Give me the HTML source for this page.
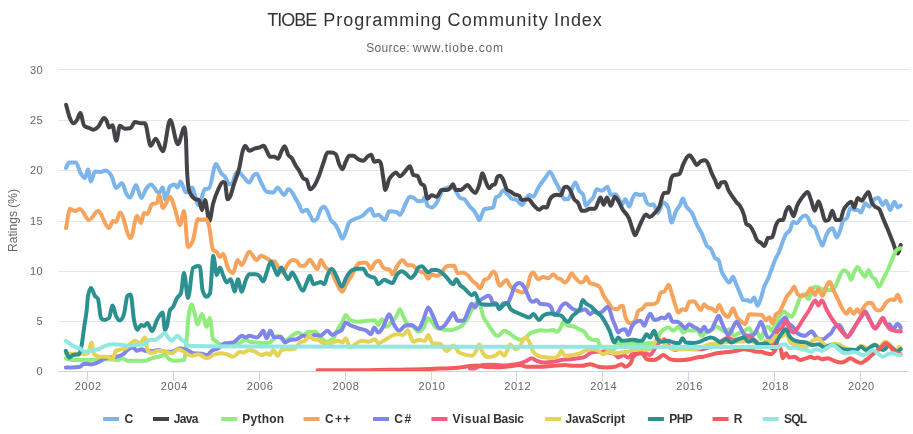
<!DOCTYPE html>
<html lang="en"><head><meta charset="utf-8"><title>TIOBE Programming Community Index</title>
<style>html,body{margin:0;padding:0;background:#fff}body{width:913px;height:434px;overflow:hidden}</style></head>
<body>
<svg width="913" height="434" viewBox="0 0 913 434" style="display:block;font-family:'Liberation Sans', sans-serif">
<rect x="0" y="0" width="913" height="434" fill="#ffffff"/>
<g stroke="#e6e6e6" stroke-width="1" fill="none"><path d="M58 69.5L909 69.5"/><path d="M58 120.5L909 120.5"/><path d="M58 170.5L909 170.5"/><path d="M58 221.5L909 221.5"/><path d="M58 271.5L909 271.5"/><path d="M58 321.5L909 321.5"/></g>
<path d="M58 371.5L909 371.5" stroke="#ccd6eb" stroke-width="1" fill="none"/>
<g stroke="#ccd6eb" stroke-width="1" fill="none"><path d="M87.5 371.5L87.5 381"/><path d="M173.5 371.5L173.5 381"/><path d="M259.5 371.5L259.5 381"/><path d="M345.5 371.5L345.5 381"/><path d="M431.5 371.5L431.5 381"/><path d="M516.5 371.5L516.5 381"/><path d="M602.5 371.5L602.5 381"/><path d="M688.5 371.5L688.5 381"/><path d="M774.5 371.5L774.5 381"/><path d="M860.5 371.5L860.5 381"/></g>
<defs><clipPath id="plotclip"><rect x="58" y="69" width="851" height="302"/></clipPath></defs>
<g clip-path="url(#plotclip)" fill="none" stroke-width="4" stroke-linejoin="round" stroke-linecap="round">
<path stroke="#7cb5ec" d="M66.0 168.0C67.0 166.1 68.0 162.4 69.0 162.4C71.3 162.4 73.7 162.4 76.0 162.4C77.3 162.4 78.7 169.5 80.0 172.0C81.7 175.1 83.3 178.0 85.0 178.0C86.0 178.0 87.0 169.6 88.0 169.6C89.0 169.6 90.0 181.6 91.0 181.6C92.3 181.6 93.7 171.6 95.0 171.6C97.0 171.6 99.0 172.0 101.0 172.0C102.5 172.0 103.9 170.4 105.4 170.4C107.6 170.4 109.8 172.6 112.0 177.0C113.3 179.7 114.7 188.0 116.0 188.0C118.0 188.0 120.0 183.0 122.0 183.0C123.3 183.0 124.7 190.6 126.0 193.0C127.3 195.4 128.7 197.6 130.0 197.6C132.0 197.6 134.0 185.0 136.0 185.0C137.8 185.0 139.6 198.0 141.4 198.0C142.9 198.0 144.5 191.2 146.0 189.0C147.7 186.6 149.3 184.4 151.0 184.4C153.7 184.4 156.3 193.0 159.0 193.0C160.2 193.0 161.4 187.6 162.6 187.6C163.5 187.6 164.5 199.6 165.4 199.6C166.9 199.6 168.5 187.6 170.0 186.4C171.7 185.1 173.3 184.4 175.0 184.4C175.8 184.4 176.6 187.6 177.4 187.6C178.5 187.6 179.5 181.6 180.6 181.6C182.4 181.6 184.2 192.4 186.0 192.4C188.0 192.4 190.0 187.6 192.0 187.6C194.2 187.6 196.4 205.0 198.6 205.0C200.7 205.0 202.9 189.6 205.0 189.0C206.3 188.6 207.7 188.8 209.0 188.4C211.3 187.7 213.7 164.0 216.0 164.0C217.7 164.0 219.3 170.8 221.0 173.0C222.3 174.8 223.7 174.9 225.0 176.7C226.4 178.6 227.8 184.2 229.2 184.2C230.3 184.2 231.4 183.9 232.5 183.3C233.3 182.8 234.2 176.7 235.0 175.0C236.1 172.8 237.2 171.7 238.3 171.7C240.0 171.7 241.6 175.0 243.3 176.7C245.3 178.7 247.2 182.5 249.2 182.5C250.6 182.5 251.9 177.3 253.3 175.8C254.4 174.6 255.6 173.7 256.7 173.7C258.1 173.7 259.4 179.2 260.8 181.7C262.8 185.3 264.7 191.2 266.7 191.7C268.9 192.2 271.1 192.5 273.3 192.5C274.7 192.5 276.1 187.5 277.5 187.5C279.7 187.5 282.0 195.0 284.2 195.0C285.6 195.0 286.9 189.2 288.3 189.2C290.0 189.2 291.6 191.4 293.3 194.2C293.9 195.2 294.4 196.4 295.0 197.5C296.4 200.2 297.8 202.3 299.2 205.0C300.3 207.1 301.4 211.7 302.5 211.7C303.9 211.7 305.3 209.7 306.7 209.7C307.8 209.7 308.9 213.2 310.0 215.0C311.1 216.8 312.2 220.8 313.3 220.8C314.4 220.8 315.6 220.3 316.7 219.2C318.1 217.9 319.4 211.2 320.8 209.2C321.9 207.5 323.1 206.7 324.2 206.7C325.3 206.7 326.4 209.5 327.5 211.7C328.6 213.9 329.7 218.0 330.8 220.0C332.2 222.6 333.6 222.2 335.0 224.2C336.1 225.8 337.2 227.9 338.3 230.0C339.7 232.7 341.1 238.7 342.5 238.7C343.6 238.7 344.7 234.4 345.8 231.7C346.9 229.0 348.1 224.0 349.2 222.5C350.9 220.3 352.5 220.1 354.2 219.2C357.0 217.6 359.7 218.0 362.5 215.8C364.2 214.5 365.8 212.1 367.5 210.8C368.6 209.9 369.7 208.7 370.8 208.7C371.9 208.7 373.1 215.8 374.2 215.8C375.6 215.8 376.9 214.7 378.3 214.7C380.5 214.7 382.8 220.0 385.0 220.0C386.4 220.0 387.8 211.3 389.2 211.3C391.7 211.3 394.2 211.5 396.7 212.0C397.8 212.2 398.9 215.0 400.0 215.0C401.7 215.0 403.3 208.1 405.0 205.0C406.7 201.9 408.3 196.7 410.0 196.7C411.4 196.7 412.8 197.5 414.2 198.3C415.6 199.1 416.9 201.3 418.3 201.3C419.7 201.3 421.1 201.1 422.5 200.8C423.3 200.6 424.2 196.7 425.0 196.7C425.8 196.7 426.7 205.1 427.5 205.8C428.9 206.9 430.3 207.5 431.7 207.5C433.1 207.5 434.4 206.2 435.8 204.2C436.9 202.6 438.1 199.8 439.2 197.5C440.6 194.8 441.9 190.1 443.3 189.2C445.0 188.1 446.6 188.0 448.3 187.5C449.4 187.2 450.6 186.7 451.7 186.7C452.8 186.7 453.9 187.6 455.0 189.2C455.8 190.4 456.7 192.8 457.5 194.2C458.6 196.0 459.7 197.8 460.8 198.3C461.9 198.8 463.1 198.5 464.2 199.0C465.1 199.4 466.1 201.3 467.0 202.5C468.0 203.8 469.0 205.5 470.0 206.7C471.4 208.4 472.8 209.1 474.2 211.0C475.0 212.2 475.9 213.4 476.7 215.0C477.5 216.6 478.4 220.3 479.2 220.3C480.0 220.3 480.9 216.8 481.7 215.0C482.5 213.2 483.4 209.5 484.2 209.2C485.6 208.7 486.9 208.8 488.3 208.5C490.0 208.2 491.6 208.1 493.3 207.3C494.1 206.9 495.0 198.3 495.8 197.5C496.9 196.4 498.1 196.8 499.2 195.8C500.6 194.6 501.9 190.3 503.3 190.3C504.4 190.3 505.6 192.2 506.7 193.3C508.4 194.9 510.0 197.8 511.7 198.7C513.4 199.6 515.0 199.1 516.7 200.0C518.4 200.9 520.0 205.0 521.7 205.0C523.1 205.0 524.4 201.0 525.8 199.2C526.9 197.7 528.1 195.0 529.2 195.0C530.6 195.0 531.9 196.7 533.3 196.7C535.0 196.7 536.6 190.2 538.3 187.5C540.5 183.8 542.8 181.2 545.0 178.3C546.7 176.1 548.3 172.0 550.0 172.0C551.7 172.0 553.3 177.8 555.0 180.8C556.7 183.8 558.3 186.6 560.0 190.0C561.4 192.8 562.8 199.2 564.2 199.2C565.6 199.2 566.9 199.2 568.3 199.2C569.7 199.2 571.1 190.6 572.5 187.5C573.4 185.5 574.4 182.5 575.3 182.5C576.6 182.5 577.9 188.7 579.2 190.8C580.6 193.0 581.9 192.2 583.3 195.0C584.1 196.7 585.0 205.8 585.8 205.8C587.2 205.8 588.6 202.3 590.0 200.8C591.1 199.6 592.2 199.4 593.3 197.5C594.4 195.6 595.6 189.2 596.7 189.2C598.4 189.2 600.0 190.8 601.7 190.8C603.6 190.8 605.6 186.7 607.5 186.7C608.6 186.7 609.7 195.0 610.8 195.0C612.2 195.0 613.6 194.2 615.0 194.2C616.1 194.2 617.2 195.7 618.3 197.5C619.4 199.3 620.6 205.0 621.7 205.0C622.9 205.0 624.1 199.2 625.3 199.2C626.6 199.2 627.9 206.7 629.2 206.7C630.3 206.7 631.4 200.5 632.5 198.3C633.6 196.1 634.7 193.7 635.8 193.7C637.2 193.7 638.6 195.0 640.0 195.0C641.1 195.0 642.2 194.2 643.3 194.2C644.4 194.2 645.6 200.8 646.7 202.5C647.8 204.2 648.9 205.0 650.0 205.0C651.1 205.0 652.2 204.2 653.3 204.2C654.9 204.2 656.4 213.0 658.0 213.0C659.7 213.0 661.3 202.5 663.0 202.5C664.7 202.5 666.3 204.0 668.0 207.0C669.2 209.2 670.4 222.6 671.6 222.6C673.1 222.6 674.5 214.0 676.0 211.0C677.3 208.3 678.7 207.6 680.0 205.0C680.9 203.1 681.9 198.5 682.8 198.5C683.9 198.5 684.9 203.9 686.0 206.0C688.0 209.9 690.0 209.3 692.0 213.0C693.7 216.1 695.3 221.5 697.0 225.0C698.7 228.5 700.3 230.5 702.0 234.0C703.7 237.5 705.3 243.5 707.0 246.0C708.3 248.0 709.7 247.0 711.0 249.0C712.3 251.0 713.7 256.4 715.0 258.0C716.1 259.3 717.3 258.7 718.4 260.0C719.5 261.3 720.6 268.8 721.7 271.7C722.8 274.6 723.9 275.8 725.0 277.5C726.4 279.6 727.8 282.5 729.2 282.5C730.5 282.5 731.7 276.7 733.0 276.7C733.9 276.7 734.9 281.1 735.8 283.3C737.2 286.6 738.6 290.2 740.0 293.3C741.1 295.7 742.2 299.8 743.3 300.0C744.7 300.2 746.1 300.1 747.5 300.3C748.6 300.5 749.7 301.7 750.8 301.7C751.9 301.7 753.1 297.5 754.2 297.5C755.3 297.5 756.4 305.8 757.5 305.8C758.6 305.8 759.7 301.4 760.8 298.3C761.9 295.1 763.1 289.9 764.2 286.7C765.6 282.9 766.9 281.6 768.3 278.3C769.7 274.9 771.1 270.4 772.5 266.7C773.6 263.8 774.7 260.8 775.8 258.3C776.9 255.9 777.9 254.5 779.0 252.0C780.3 248.9 781.7 244.3 783.0 241.0C784.0 238.5 785.0 235.8 786.0 234.0C787.3 231.7 788.7 232.6 790.0 230.0C791.0 228.0 792.0 222.0 793.0 222.0C794.3 222.0 795.7 223.0 797.0 223.0C798.3 223.0 799.7 219.2 801.0 218.0C802.3 216.8 803.7 215.6 805.0 215.6C806.0 215.6 807.0 216.4 808.0 218.0C809.0 219.6 810.0 223.5 811.0 225.0C812.3 227.0 813.7 226.0 815.0 228.0C816.0 229.5 817.0 233.5 818.0 236.0C819.0 238.5 820.0 240.8 821.0 243.0C821.4 244.0 821.9 245.8 822.3 245.8C823.5 245.8 824.8 238.5 826.0 235.8C827.1 233.4 828.2 231.1 829.3 230.0C830.4 228.9 831.6 228.3 832.7 228.3C834.1 228.3 835.4 237.5 836.8 237.5C837.9 237.5 839.1 233.0 840.2 230.0C841.3 227.1 842.4 221.1 843.5 220.0C844.6 218.9 845.7 219.4 846.8 218.3C847.9 217.1 849.1 208.3 850.2 208.3C851.6 208.3 852.9 210.0 854.3 210.0C855.4 210.0 856.6 210.0 857.7 210.0C858.8 210.0 859.9 212.5 861.0 212.5C862.4 212.5 863.8 203.3 865.2 203.3C866.6 203.3 867.9 206.7 869.3 206.7C871.0 206.7 872.6 200.2 874.3 199.2C875.7 198.4 877.1 198.0 878.5 198.0C879.9 198.0 881.3 205.0 882.7 205.0C883.8 205.0 884.9 200.8 886.0 200.8C887.4 200.8 888.8 210.0 890.2 210.0C891.6 210.0 892.9 201.7 894.3 201.7C895.4 201.7 896.6 207.5 897.7 207.5C898.7 207.5 899.7 206.2 900.7 205.5"/>
<path stroke="#434348" d="M66.1 104.7C67.2 108.8 68.4 113.9 69.5 117.0C70.8 120.4 72.0 123.3 73.3 123.3C74.5 123.3 75.8 121.9 77.0 120.0C78.1 118.3 79.2 113.0 80.3 113.0C81.6 113.0 82.9 124.7 84.2 125.8C85.9 127.3 87.5 127.3 89.2 128.0C90.7 128.6 92.1 129.7 93.6 129.7C95.2 129.7 96.7 128.3 98.3 126.7C100.2 124.7 102.2 118.0 104.1 118.0C105.0 118.0 105.8 119.3 106.7 121.0C107.5 122.6 108.3 127.5 109.1 127.5C110.2 127.5 111.3 125.3 112.4 125.3C113.7 125.3 115.0 140.8 116.3 140.8C117.5 140.8 118.7 125.8 119.9 125.8C121.6 125.8 123.2 128.7 124.9 128.7C126.8 128.7 128.8 128.5 130.7 128.0C132.1 127.7 133.5 122.0 134.9 122.0C136.8 122.0 138.8 123.3 140.7 123.3C142.1 123.3 143.5 123.3 144.9 123.3C146.8 123.3 148.8 145.8 150.7 145.8C152.4 145.8 154.0 138.7 155.7 138.7C158.1 138.7 160.5 151.3 162.9 151.3C165.3 151.3 167.8 120.0 170.2 120.0C172.8 120.0 175.3 144.2 177.9 144.2C180.1 144.2 182.3 127.5 184.5 127.5C185.0 127.5 185.5 131.7 186.0 140.0C186.3 145.6 186.7 163.3 187.0 170.0C187.7 183.3 188.3 188.0 189.0 190.0C191.0 196.0 193.0 198.0 195.0 199.0C196.3 199.7 197.7 199.3 199.0 200.0C200.0 200.5 201.0 210.0 202.0 210.0C203.0 210.0 204.0 200.0 205.0 200.0C206.5 200.0 207.9 221.0 209.4 221.0C210.6 221.0 211.8 208.7 213.0 204.0C214.7 197.5 216.3 193.7 218.0 190.0C219.7 186.3 221.3 182.0 223.0 182.0C223.7 182.0 224.3 182.3 225.0 183.0C225.8 183.8 226.7 199.2 227.5 199.2C228.3 199.2 229.2 198.2 230.0 196.7C231.4 194.2 232.8 187.6 234.2 183.3C235.9 178.1 237.5 175.3 239.2 168.3C240.3 163.7 241.4 155.5 242.5 151.7C243.4 148.5 244.4 145.8 245.3 145.8C246.6 145.8 247.9 150.8 249.2 150.8C251.1 150.8 253.1 148.9 255.0 148.3C256.4 147.9 257.8 147.9 259.2 147.5C260.7 147.1 262.2 145.8 263.7 145.8C264.7 145.8 265.7 149.1 266.7 150.8C267.8 152.7 268.9 156.7 270.0 156.7C271.4 156.7 272.8 156.7 274.2 156.7C275.5 156.7 276.7 158.7 278.0 158.7C279.2 158.7 280.5 153.0 281.7 150.8C282.7 149.0 283.7 146.3 284.7 146.3C285.9 146.3 287.1 153.0 288.3 155.0C289.4 156.8 290.6 156.5 291.7 158.0C293.1 159.8 294.4 163.5 295.8 165.8C296.9 167.7 298.1 168.9 299.2 170.8C300.6 173.0 301.9 176.9 303.3 178.3C304.4 179.4 305.6 178.9 306.7 180.0C307.8 181.1 308.9 189.2 310.0 189.2C311.4 189.2 312.8 187.8 314.2 185.8C315.6 183.9 316.9 180.8 318.3 177.5C320.0 173.5 321.6 167.8 323.3 163.3C324.7 159.5 326.1 152.5 327.5 152.5C328.9 152.5 330.3 152.5 331.7 152.5C333.1 152.5 334.4 153.1 335.8 154.2C336.9 155.1 338.1 161.7 339.2 164.2C340.3 166.6 341.4 169.2 342.5 169.2C343.6 169.2 344.7 163.9 345.8 161.7C346.9 159.4 348.1 155.8 349.2 155.8C350.6 155.8 351.9 155.8 353.3 155.8C355.0 155.8 356.6 158.4 358.3 159.2C360.0 160.0 361.6 160.8 363.3 160.8C364.7 160.8 366.1 157.7 367.5 156.7C368.8 155.8 370.0 154.7 371.3 154.7C372.3 154.7 373.2 161.7 374.2 161.7C375.6 161.7 376.9 160.8 378.3 160.8C379.1 160.8 380.0 161.6 380.8 163.3C381.6 165.0 382.5 173.4 383.3 178.3C384.0 182.2 384.6 190.0 385.3 190.0C386.6 190.0 387.9 181.7 389.2 179.2C390.3 177.0 391.4 176.1 392.5 175.0C393.6 173.9 394.7 172.5 395.8 172.5C397.2 172.5 398.6 176.3 400.0 176.3C401.4 176.3 402.8 174.1 404.2 172.5C405.3 171.3 406.4 169.4 407.5 168.3C408.3 167.4 409.2 166.2 410.0 166.2C411.1 166.2 412.2 174.6 413.3 175.0C414.7 175.5 416.1 175.3 417.5 175.8C418.6 176.2 419.7 181.7 420.8 183.3C421.9 185.0 423.1 184.1 424.2 185.8C425.3 187.4 426.4 198.7 427.5 198.7C428.9 198.7 430.3 195.3 431.7 195.3C433.4 195.3 435.0 196.7 436.7 196.7C438.4 196.7 440.0 190.0 441.7 190.0C443.4 190.0 445.0 190.0 446.7 190.0C447.8 190.0 448.9 189.4 450.0 188.3C451.0 187.3 452.0 184.2 453.0 184.2C453.9 184.2 454.9 190.0 455.8 190.0C457.5 190.0 459.1 190.0 460.8 190.0C461.9 190.0 463.1 188.3 464.2 187.5C465.3 186.7 466.4 185.0 467.5 185.0C468.9 185.0 470.3 188.6 471.7 190.0C472.9 191.2 474.1 193.0 475.3 193.0C476.6 193.0 477.9 188.7 479.2 185.0C480.3 181.9 481.4 173.3 482.5 173.3C483.6 173.3 484.7 179.2 485.8 181.7C486.9 184.2 488.1 188.3 489.2 188.3C490.3 188.3 491.4 185.7 492.5 185.0C493.3 184.5 494.2 184.7 495.0 184.2C495.8 183.7 496.7 177.2 497.5 176.7C498.4 176.1 499.4 175.8 500.3 175.8C501.3 175.8 502.3 178.0 503.3 180.0C504.4 182.3 505.6 187.8 506.7 189.2C508.1 190.9 509.4 190.8 510.8 191.7C511.9 192.5 513.1 193.6 514.2 194.2C515.1 194.7 516.1 194.7 517.0 195.0C517.7 195.2 518.5 195.3 519.2 195.8C520.0 196.4 520.9 200.0 521.7 200.0C523.9 200.0 526.1 199.2 528.3 199.2C530.3 199.2 532.2 204.0 534.2 205.8C535.9 207.4 537.5 209.7 539.2 209.7C540.6 209.7 541.9 207.0 543.3 207.0C544.4 207.0 545.6 207.5 546.7 207.5C547.8 207.5 548.9 201.1 550.0 199.2C551.1 197.2 552.2 196.5 553.3 195.8C554.4 195.1 555.6 194.7 556.7 194.7C558.1 194.7 559.4 195.3 560.8 195.3C561.9 195.3 563.1 188.2 564.2 187.5C565.0 187.0 565.9 186.7 566.7 186.7C567.8 186.7 568.9 188.3 570.0 190.0C571.4 192.1 572.8 197.0 574.2 199.2C575.6 201.4 576.9 201.0 578.3 203.3C579.4 205.2 580.6 210.8 581.7 210.8C582.8 210.8 583.9 210.8 585.0 210.8C586.7 210.8 588.3 208.7 590.0 208.7C591.7 208.7 593.3 208.7 595.0 208.7C596.1 208.7 597.2 203.9 598.3 201.7C599.0 200.2 599.8 197.5 600.5 197.5C601.6 197.5 602.6 204.7 603.7 204.7C604.8 204.7 605.9 197.5 607.0 197.5C608.3 197.5 609.5 205.8 610.8 205.8C612.1 205.8 613.4 197.0 614.7 197.0C615.9 197.0 617.1 199.0 618.3 200.8C619.7 202.9 621.1 206.8 622.5 209.2C624.2 212.0 625.8 213.1 627.5 215.8C627.9 216.5 628.4 217.1 628.8 218.0C630.0 220.4 631.1 225.3 632.3 228.4C633.2 230.9 634.2 235.3 635.1 235.3C636.1 235.3 637.0 231.7 638.0 229.6C639.2 227.1 640.3 223.8 641.5 221.5C643.0 218.5 644.5 214.6 646.0 214.6C647.2 214.6 648.3 216.9 649.5 216.9C651.4 216.9 653.4 214.6 655.3 212.3C656.8 210.5 658.4 210.0 659.9 205.4C660.2 204.5 660.5 202.8 660.8 201.7C661.9 197.4 663.1 193.3 664.2 193.0C665.6 192.7 666.9 192.8 668.3 192.5C669.1 192.3 670.0 182.9 670.8 180.0C671.6 177.1 672.5 175.6 673.3 175.3C675.3 174.6 677.2 174.9 679.2 174.2C680.6 173.7 681.9 167.1 683.3 164.2C684.7 161.2 686.1 158.1 687.5 156.7C688.2 155.9 689.0 155.3 689.7 155.3C690.8 155.3 691.9 157.7 693.0 159.2C694.2 160.9 695.5 165.0 696.7 165.0C698.1 165.0 699.4 162.0 700.8 161.3C702.2 160.6 703.6 160.3 705.0 160.3C706.1 160.3 707.2 162.1 708.3 164.2C709.4 166.4 710.6 170.6 711.7 173.3C712.8 175.9 713.9 177.6 715.0 180.0C716.1 182.4 717.2 187.5 718.3 187.5C719.3 187.5 720.3 182.8 721.3 182.5C722.5 182.2 723.8 182.0 725.0 182.0C726.1 182.0 727.2 187.7 728.3 190.0C729.7 192.9 731.1 194.6 732.5 196.7C733.9 198.8 735.3 200.8 736.7 202.5C737.8 203.8 738.9 204.2 740.0 206.0C741.3 208.1 742.7 210.7 744.0 215.0C744.8 217.5 745.6 223.1 746.4 224.0C747.6 225.3 748.8 224.7 750.0 226.0C751.3 227.5 752.7 230.2 754.0 233.0C755.0 235.1 756.0 238.5 757.0 240.0C758.3 242.0 759.7 241.9 761.0 243.0C762.1 243.9 763.3 246.0 764.4 246.0C765.6 246.0 766.8 238.4 768.0 238.0C769.3 237.6 770.7 237.8 772.0 237.4C773.3 237.0 774.7 227.9 776.0 225.0C777.3 222.1 778.7 220.0 780.0 220.0C781.0 220.0 782.0 220.0 783.0 220.0C784.0 220.0 785.0 213.2 786.0 211.0C787.0 208.8 788.0 207.0 789.0 207.0C790.5 207.0 792.1 216.0 793.6 216.0C794.7 216.0 795.9 208.7 797.0 206.0C798.3 202.8 799.7 201.0 801.0 199.0C801.6 198.2 802.1 197.4 802.7 196.7C804.4 194.6 806.0 192.0 807.7 192.0C808.8 192.0 809.9 197.1 811.0 200.0C812.2 203.3 813.5 210.8 814.7 210.8C816.0 210.8 817.2 201.3 818.5 201.3C819.6 201.3 820.7 206.8 821.8 210.0C822.9 213.3 824.1 220.8 825.2 220.8C826.3 220.8 827.4 220.5 828.5 220.0C829.8 219.4 831.0 210.8 832.3 210.8C833.5 210.8 834.8 220.0 836.0 220.0C837.4 220.0 838.8 220.0 840.2 220.0C841.3 220.0 842.4 212.5 843.5 210.0C844.9 206.8 846.3 205.6 847.7 204.2C848.8 203.1 849.9 201.7 851.0 201.7C852.1 201.7 853.2 207.5 854.3 207.5C855.4 207.5 856.6 198.0 857.7 198.0C859.1 198.0 860.4 200.8 861.8 200.8C862.9 200.8 864.1 197.3 865.2 195.8C866.3 194.4 867.4 192.0 868.5 192.0C869.6 192.0 870.7 200.1 871.8 202.5C872.9 205.0 874.1 205.6 875.2 206.7C876.6 208.0 877.9 207.5 879.3 209.2C880.4 210.6 881.6 214.8 882.7 217.5C884.4 221.5 886.0 225.2 887.7 229.2C889.4 233.2 891.0 237.7 892.7 241.7C894.4 245.8 896.1 253.5 897.8 253.5C898.8 253.5 899.7 247.8 900.7 245.0"/>
<path stroke="#90ed7d" d="M65.8 358.3C67.8 358.9 69.7 360.0 71.7 360.0C77.2 360.0 82.8 360.0 88.3 360.0C93.9 360.0 99.4 359.2 105.0 359.2C109.4 359.2 113.9 360.0 118.3 360.0C119.4 360.0 120.6 358.3 121.7 358.3C123.9 358.3 126.1 360.8 128.3 360.8C131.6 360.8 135.0 360.8 138.3 360.8C140.5 360.8 142.8 360.8 145.0 360.8C147.2 360.8 149.5 359.0 151.7 358.3C153.9 357.6 156.1 357.2 158.3 356.7C160.5 356.1 162.8 355.0 165.0 355.0C166.4 355.0 167.8 358.4 169.2 359.2C171.1 360.3 173.1 360.8 175.0 360.8C178.1 360.8 181.1 360.5 184.2 360.0C185.1 359.8 186.1 345.5 187.0 335.0C187.5 329.7 187.9 321.4 188.4 317.6C189.5 308.7 190.6 304.3 191.7 304.3C192.6 304.3 193.6 309.9 194.5 313.0C195.5 316.5 196.6 324.3 197.6 324.3C199.0 324.3 200.4 314.1 201.8 314.1C202.5 314.1 203.3 317.0 204.0 319.0C204.8 321.2 205.6 326.9 206.4 326.9C207.5 326.9 208.5 318.1 209.6 318.1C210.1 318.1 210.7 320.2 211.2 324.0C211.7 327.3 212.1 337.5 212.6 338.3C214.0 340.6 215.3 340.7 216.7 341.7C218.4 343.0 220.0 344.7 221.7 345.0C225.1 345.7 228.6 346.0 232.0 346.0C235.2 346.0 238.5 343.9 241.7 341.7C242.8 341.0 243.9 339.2 245.0 339.2C246.7 339.2 248.3 341.3 250.0 341.7C252.2 342.2 254.5 342.2 256.7 342.5C258.9 342.8 261.1 343.3 263.3 343.3C265.5 343.3 267.8 343.0 270.0 342.5C271.1 342.2 272.2 340.2 273.3 339.2C274.7 337.9 276.1 335.8 277.5 335.8C278.9 335.8 280.3 338.8 281.7 339.2C283.4 339.7 285.0 340.0 286.7 340.0C288.4 340.0 290.0 337.0 291.7 335.8C293.9 334.3 296.1 332.5 298.3 332.5C300.0 332.5 301.6 335.0 303.3 335.0C305.3 335.0 307.2 331.7 309.2 331.7C311.1 331.7 313.1 331.7 315.0 331.7C316.7 331.7 318.3 335.2 320.0 336.7C322.2 338.7 324.5 341.7 326.7 341.7C328.9 341.7 331.1 340.6 333.3 338.3C335.0 336.6 336.6 331.2 338.3 328.3C339.7 325.8 341.1 324.3 342.5 321.7C343.6 319.7 344.7 315.0 345.8 315.0C347.2 315.0 348.6 319.4 350.0 320.0C352.8 321.1 355.5 321.7 358.3 321.7C361.1 321.7 363.9 321.0 366.7 320.8C369.5 320.6 372.2 320.3 375.0 320.3C376.1 320.3 377.2 325.0 378.3 325.0C379.4 325.0 380.6 319.2 381.7 319.2C383.4 319.2 385.0 326.7 386.7 326.7C388.4 326.7 390.0 323.5 391.7 321.7C393.4 319.9 395.0 318.6 396.7 315.8C397.8 314.0 398.9 309.2 400.0 309.2C401.1 309.2 402.2 314.5 403.3 316.7C405.0 320.1 406.6 323.9 408.3 325.0C410.0 326.1 411.6 325.6 413.3 326.7C415.0 327.8 416.6 331.7 418.3 331.7C420.0 331.7 421.6 330.5 423.3 328.3C425.0 326.1 426.6 318.3 428.3 318.3C429.4 318.3 430.6 320.4 431.7 321.7C433.1 323.3 434.4 326.7 435.8 327.5C437.8 328.6 439.7 328.7 441.7 329.2C443.9 329.7 446.1 330.3 448.3 330.3C450.5 330.3 452.8 329.9 455.0 329.2C457.2 328.5 459.5 327.8 461.7 325.8C463.4 324.3 465.0 322.6 466.7 320.0C468.4 317.4 470.0 312.9 471.7 310.0C473.4 307.1 475.0 302.5 476.7 302.5C477.8 302.5 478.9 303.3 480.0 305.0C481.1 306.7 482.2 313.8 483.3 316.7C484.4 319.7 485.6 320.7 486.7 322.5C488.4 325.2 490.0 327.8 491.7 330.0C493.5 332.3 495.2 335.8 497.0 335.8C497.7 335.8 498.5 335.6 499.2 335.3C500.9 334.6 502.5 330.8 504.2 330.8C505.6 330.8 506.9 331.8 508.3 332.5C510.5 333.7 512.8 336.2 515.0 337.5C517.2 338.8 519.5 340.0 521.7 340.0C523.1 340.0 524.4 338.6 525.8 337.5C527.2 336.4 528.6 334.3 530.0 333.3C531.9 332.0 533.9 331.8 535.8 331.3C537.2 330.9 538.6 330.3 540.0 330.3C542.2 330.3 544.5 330.8 546.7 330.8C548.9 330.8 551.1 330.0 553.3 330.0C554.4 330.0 555.6 331.7 556.7 331.7C558.1 331.7 559.4 330.0 560.8 327.5C561.6 326.0 562.5 321.7 563.3 321.7C565.0 321.7 566.6 325.5 568.3 325.8C570.0 326.1 571.6 326.0 573.3 326.3C575.3 326.7 577.2 328.2 579.2 329.2C580.9 330.0 582.5 330.0 584.2 331.7C585.6 333.1 586.9 336.1 588.3 337.5C590.0 339.2 591.6 340.0 593.3 340.0C594.7 340.0 596.1 340.0 597.5 340.0C598.3 340.0 599.2 345.0 600.0 345.8C602.3 347.9 604.7 348.9 607.0 349.0C609.4 349.1 611.8 349.2 614.2 349.2C615.6 349.2 616.9 343.3 618.3 343.3C620.5 343.3 622.8 345.0 625.0 345.0C627.8 345.0 630.5 343.3 633.3 343.3C636.2 343.3 639.1 344.2 642.0 344.2C643.6 344.2 645.1 343.4 646.7 343.3C649.5 343.1 652.2 343.2 655.0 343.0C656.7 342.9 658.3 335.7 660.0 333.3C661.4 331.3 662.8 330.2 664.2 329.2C665.6 328.3 666.9 327.5 668.3 327.5C670.0 327.5 671.6 330.8 673.3 330.8C675.0 330.8 676.6 326.7 678.3 326.7C680.0 326.7 681.6 332.5 683.3 332.5C684.7 332.5 686.1 330.0 687.5 330.0C689.2 330.0 690.8 330.8 692.5 330.8C693.9 330.8 695.3 330.0 696.7 330.0C698.4 330.0 700.0 335.8 701.7 335.8C703.4 335.8 705.0 332.7 706.7 331.7C708.4 330.7 710.0 330.8 711.7 330.0C713.4 329.2 715.0 326.7 716.7 326.7C718.1 326.7 719.4 328.4 720.8 329.2C722.2 330.0 723.6 331.7 725.0 331.7C726.4 331.7 727.8 329.2 729.2 329.2C730.9 329.2 732.5 335.8 734.2 335.8C735.6 335.8 736.9 334.0 738.3 333.3C740.0 332.5 741.6 332.4 743.3 331.7C745.3 330.8 747.2 328.3 749.2 328.3C750.3 328.3 751.4 333.3 752.5 333.3C753.9 333.3 755.3 331.7 756.7 331.7C758.1 331.7 759.6 339.0 761.0 339.0C762.3 339.0 763.7 329.5 765.0 328.3C766.2 327.2 767.3 326.7 768.5 326.7C769.6 326.7 770.7 330.8 771.8 330.8C772.9 330.8 774.1 327.1 775.2 325.0C776.6 322.5 777.9 318.8 779.3 316.7C781.0 314.1 782.6 311.7 784.3 311.7C785.7 311.7 787.1 314.1 788.5 315.0C789.6 315.7 790.7 316.7 791.8 316.7C793.2 316.7 794.6 311.5 796.0 308.3C797.4 305.1 798.8 299.8 800.2 297.5C801.6 295.3 802.9 294.2 804.3 294.2C805.7 294.2 807.1 299.2 808.5 299.2C809.9 299.2 811.3 289.7 812.7 288.3C813.8 287.2 814.9 286.7 816.0 286.7C817.4 286.7 818.8 287.8 820.2 288.3C822.7 289.1 825.2 290.0 827.7 290.0C829.4 290.0 831.0 290.0 832.7 290.0C834.1 290.0 835.4 286.1 836.8 283.3C837.9 280.9 839.1 277.2 840.2 275.0C841.3 272.9 842.4 270.3 843.5 270.3C844.9 270.3 846.3 271.0 847.7 272.5C848.8 273.7 849.9 279.7 851.0 279.7C852.1 279.7 853.2 273.8 854.3 271.7C855.4 269.5 856.6 267.0 857.7 267.0C858.8 267.0 859.9 270.2 861.0 271.7C862.4 273.5 863.8 276.7 865.2 276.7C866.3 276.7 867.4 270.0 868.5 270.0C869.6 270.0 870.7 275.2 871.8 276.7C872.9 278.3 874.1 277.7 875.2 279.2C876.5 280.9 877.7 286.7 879.0 286.7C880.5 286.7 882.0 281.2 883.5 278.3C884.9 275.6 886.3 273.0 887.7 270.0C889.4 266.4 891.0 262.0 892.7 258.3C893.9 255.5 895.2 251.8 896.4 250.3C897.1 249.4 897.8 249.1 898.5 248.8C899.2 248.4 900.0 248.4 900.7 248.2"/>
<path stroke="#f7a35c" d="M66.0 228.0C67.3 221.7 68.7 209.0 70.0 209.0C71.7 209.0 73.3 211.0 75.0 211.0C76.7 211.0 78.3 209.0 80.0 209.0C83.0 209.0 86.0 220.0 89.0 220.0C92.0 220.0 95.0 211.0 98.0 211.0C101.7 211.0 105.3 228.0 109.0 228.0C110.3 228.0 111.7 221.0 113.0 221.0C114.0 221.0 115.0 222.0 116.0 222.0C117.3 222.0 118.7 212.4 120.0 212.4C123.5 212.4 127.1 238.0 130.6 238.0C132.7 238.0 134.9 216.0 137.0 216.0C138.3 216.0 139.7 223.0 141.0 223.0C142.0 223.0 143.0 213.0 144.0 213.0C145.1 213.0 146.3 214.0 147.4 214.0C148.9 214.0 150.5 204.6 152.0 204.0C153.7 203.3 155.3 203.7 157.0 203.0C157.7 202.7 158.3 195.0 159.0 195.0C160.3 195.0 161.7 208.0 163.0 208.0C165.3 208.0 167.7 197.0 170.0 197.0C171.7 197.0 173.3 204.3 175.0 209.0C176.7 213.7 178.3 225.0 180.0 225.0C181.3 225.0 182.7 211.0 184.0 211.0C185.3 211.0 186.7 247.0 188.0 247.0C189.7 247.0 191.3 244.7 193.0 240.0C194.7 235.3 196.3 219.0 198.0 219.0C199.3 219.0 200.7 220.0 202.0 220.0C203.3 220.0 204.7 219.0 206.0 219.0C207.0 219.0 208.0 222.1 209.0 226.0C210.3 231.2 211.7 248.4 213.0 250.0C214.3 251.6 215.7 250.9 217.0 252.4C218.0 253.5 219.0 257.0 220.0 257.0C221.0 257.0 222.0 254.0 223.0 254.0C224.7 254.0 226.3 264.8 228.0 268.0C229.7 271.2 231.3 273.0 233.0 273.0C234.5 273.0 236.1 260.0 237.6 260.0C239.0 260.0 240.3 265.0 241.7 265.0C244.2 265.0 246.7 251.7 249.2 251.7C251.7 251.7 254.2 260.0 256.7 260.0C258.1 260.0 259.4 255.8 260.8 255.8C262.8 255.8 264.7 257.3 266.7 258.3C268.1 259.0 269.4 260.2 270.8 260.8C272.2 261.4 273.6 261.1 275.0 261.7C276.1 262.2 277.2 265.8 278.3 267.5C279.7 269.6 281.1 272.5 282.5 272.5C284.4 272.5 286.4 265.5 288.3 263.3C289.7 261.7 291.1 260.0 292.5 260.0C293.9 260.0 295.3 260.3 296.7 260.8C297.8 261.2 298.9 265.8 300.0 265.8C301.4 265.8 302.8 265.8 304.2 265.8C306.1 265.8 308.1 259.7 310.0 259.7C311.1 259.7 312.2 262.8 313.3 264.2C314.7 266.0 316.1 269.2 317.5 269.2C318.6 269.2 319.7 260.0 320.8 260.0C322.2 260.0 323.6 264.9 325.0 266.7C327.2 269.6 329.5 268.9 331.7 272.5C333.4 275.2 335.0 280.2 336.7 283.3C338.5 286.7 340.4 291.7 342.2 291.7C344.0 291.7 345.7 284.7 347.5 281.7C349.0 279.2 350.5 277.9 352.0 275.0C353.0 273.1 354.0 270.1 355.0 268.3C356.7 265.3 358.3 263.3 360.0 263.0C361.7 262.7 363.3 262.5 365.0 262.5C366.1 262.5 367.2 263.6 368.3 265.0C369.1 266.1 370.0 269.2 370.8 269.2C372.2 269.2 373.6 263.6 375.0 262.5C376.4 261.4 377.8 260.8 379.2 260.8C380.3 260.8 381.4 265.4 382.5 266.7C383.9 268.4 385.3 269.2 386.7 269.2C387.5 269.2 388.4 269.2 389.2 269.2C390.3 269.2 391.4 274.2 392.5 274.2C393.9 274.2 395.3 268.8 396.7 266.7C398.6 263.8 400.6 260.0 402.5 260.0C404.2 260.0 405.8 265.3 407.5 265.3C409.2 265.3 410.8 265.3 412.5 265.3C413.6 265.3 414.7 267.3 415.8 268.3C417.2 269.5 418.6 271.2 420.0 271.7C421.4 272.2 422.8 272.0 424.2 272.5C425.5 273.0 426.7 278.7 428.0 278.7C429.2 278.7 430.5 274.2 431.7 274.2C433.1 274.2 434.4 275.8 435.8 275.8C437.5 275.8 439.1 275.3 440.8 274.2C442.2 273.3 443.6 268.6 445.0 267.5C446.4 266.4 447.8 265.8 449.2 265.8C450.9 265.8 452.5 265.8 454.2 265.8C455.3 265.8 456.4 273.3 457.5 273.3C459.2 273.3 460.8 272.5 462.5 272.5C464.2 272.5 465.8 273.7 467.5 275.0C469.4 276.6 471.4 280.0 473.3 281.7C474.4 282.7 475.6 283.1 476.7 284.2C477.8 285.3 478.9 288.3 480.0 288.3C481.4 288.3 482.8 281.2 484.2 280.0C485.6 278.9 486.9 279.4 488.3 278.3C490.0 276.9 491.6 271.7 493.3 271.7C494.1 271.7 495.0 272.5 495.8 274.2C496.4 275.3 496.9 279.0 497.5 280.8C498.3 283.4 499.2 285.8 500.0 285.8C501.1 285.8 502.2 283.5 503.3 282.5C504.4 281.5 505.6 280.0 506.7 280.0C507.8 280.0 508.9 284.3 510.0 285.8C511.1 287.3 512.2 288.4 513.3 289.2C514.7 290.2 516.1 290.3 517.5 290.8C519.2 291.4 520.8 292.5 522.5 292.5C524.2 292.5 525.8 290.6 527.5 286.7C528.3 284.8 529.2 279.0 530.0 276.7C531.0 273.9 532.0 272.5 533.0 272.5C534.8 272.5 536.5 279.2 538.3 279.2C540.0 279.2 541.6 277.0 543.3 277.0C545.0 277.0 546.6 278.3 548.3 278.3C550.0 278.3 551.6 274.2 553.3 274.2C554.7 274.2 556.1 277.5 557.5 278.3C558.6 278.9 559.7 278.7 560.8 279.2C562.2 279.9 563.6 282.5 565.0 282.5C566.1 282.5 567.2 280.7 568.3 279.2C569.4 277.7 570.6 273.3 571.7 273.3C572.8 273.3 573.9 276.3 575.0 277.5C576.9 279.7 578.9 282.5 580.8 282.5C581.9 282.5 583.1 281.9 584.2 280.8C584.9 280.1 585.6 276.7 586.3 276.7C587.5 276.7 588.8 282.8 590.0 283.3C591.4 283.9 592.8 283.7 594.2 284.2C596.1 284.9 598.1 285.3 600.0 287.5C601.1 288.8 602.2 292.8 603.3 295.0C605.0 298.3 606.6 300.1 608.3 302.5C609.7 304.5 611.1 307.8 612.5 308.3C614.2 308.9 615.8 309.2 617.5 309.2C618.3 309.2 619.2 307.3 620.0 306.7C620.8 306.1 621.7 305.8 622.5 305.8C623.6 305.8 624.7 315.7 625.8 318.3C627.2 321.6 628.6 323.3 630.0 323.3C631.7 323.3 633.3 322.5 635.0 320.8C636.1 319.7 637.2 311.8 638.3 310.8C639.4 309.7 640.6 310.0 641.7 309.2C643.4 308.1 645.0 304.2 646.7 304.2C648.9 304.2 651.1 304.2 653.3 304.2C654.7 304.2 656.1 303.4 657.5 301.7C658.6 300.4 659.7 293.0 660.8 292.5C661.9 292.0 663.1 292.2 664.2 291.7C665.7 291.0 667.2 284.7 668.7 284.7C669.7 284.7 670.7 290.2 671.7 293.3C672.8 296.7 673.9 301.0 675.0 304.2C676.1 307.4 677.2 312.5 678.3 312.5C679.7 312.5 681.1 309.2 682.5 309.2C683.6 309.2 684.7 310.0 685.8 310.0C686.9 310.0 688.1 301.9 689.2 301.7C690.9 301.4 692.5 301.3 694.2 301.3C695.3 301.3 696.4 304.4 697.5 305.8C698.6 307.2 699.7 310.0 700.8 310.0C701.9 310.0 703.1 304.2 704.2 304.2C705.3 304.2 706.4 307.1 707.5 307.5C708.9 308.0 710.3 307.8 711.7 308.3C713.1 308.8 714.4 311.7 715.8 311.7C716.9 311.7 718.1 305.0 719.2 305.0C720.6 305.0 721.9 311.4 723.3 313.3C725.0 315.6 726.6 316.7 728.3 316.7C729.9 316.7 731.4 308.3 733.0 308.3C734.2 308.3 735.5 314.6 736.7 316.7C738.1 319.0 739.4 319.6 740.8 320.8C742.2 322.1 743.6 324.2 745.0 324.2C746.4 324.2 747.8 314.2 749.2 314.2C751.1 314.2 753.1 314.3 755.0 314.4C757.3 314.5 759.6 314.6 761.9 315.0C763.2 315.2 764.6 320.2 765.9 320.2C767.1 320.2 768.2 317.3 769.4 317.3C770.4 317.3 771.3 323.6 772.3 323.6C773.4 323.6 774.6 316.3 775.7 314.6C777.1 312.5 778.4 313.5 779.8 311.5C781.1 309.7 782.3 306.2 783.6 303.5C784.6 301.3 785.7 298.5 786.7 296.7C788.1 294.3 789.4 293.6 790.8 291.7C791.9 290.2 793.1 286.7 794.2 286.7C795.3 286.7 796.4 293.4 797.5 294.2C798.9 295.3 800.3 295.8 801.7 295.8C803.4 295.8 805.0 295.3 806.7 294.2C808.1 293.3 809.4 288.3 810.8 288.3C812.2 288.3 813.6 295.0 815.0 295.0C816.1 295.0 817.2 289.2 818.3 289.2C819.7 289.2 821.1 295.8 822.5 295.8C823.9 295.8 825.3 288.3 826.7 285.8C827.7 284.0 828.7 281.7 829.7 281.7C830.9 281.7 832.1 287.4 833.3 290.0C835.0 293.6 836.6 296.4 838.3 300.0C839.4 302.4 840.5 305.4 841.6 307.4C843.3 310.6 845.0 313.8 846.7 313.8C847.8 313.8 848.8 308.8 849.9 308.8C851.1 308.8 852.4 313.8 853.6 313.8C854.8 313.8 856.1 309.2 857.3 309.2C858.1 309.2 858.8 312.9 859.6 312.9C861.0 312.9 862.3 309.0 863.7 307.4C865.2 305.6 866.8 302.8 868.3 302.8C869.5 302.8 870.8 302.9 872.0 303.2C872.9 303.4 873.9 307.1 874.8 308.3C876.0 309.8 877.3 310.6 878.5 310.6C879.7 310.6 880.9 310.0 882.1 308.8C883.3 307.6 884.6 304.3 885.8 302.8C887.0 301.3 888.3 300.5 889.5 300.0C890.3 299.7 891.2 299.5 892.0 299.5C892.8 299.5 893.7 300.0 894.5 300.0C895.6 300.0 896.6 294.7 897.7 294.7C898.7 294.7 899.7 299.2 900.7 301.5"/>
<path stroke="#8085e9" d="M65.8 367.5C67.8 367.5 69.7 367.5 71.7 367.5C74.5 367.5 77.2 367.2 80.0 366.7C81.4 366.4 82.8 363.7 84.2 363.7C86.7 363.7 89.2 364.2 91.7 364.2C94.2 364.2 96.7 363.0 99.2 361.7C100.6 361.0 101.9 359.8 103.3 359.2C105.5 358.1 107.8 357.9 110.0 357.5C112.2 357.1 114.5 357.2 116.7 356.7C118.9 356.2 121.1 355.8 123.3 354.2C125.0 353.0 126.6 350.3 128.3 349.2C130.0 348.1 131.6 347.5 133.3 347.5C134.4 347.5 135.6 350.8 136.7 350.8C138.4 350.8 140.0 349.2 141.7 349.2C142.8 349.2 143.9 350.6 145.0 350.8C147.2 351.1 149.5 351.3 151.7 351.3C153.9 351.3 156.1 350.0 158.3 350.0C160.5 350.0 162.8 351.7 165.0 351.7C167.2 351.7 169.5 351.7 171.7 351.7C174.5 351.7 177.2 348.3 180.0 348.3C182.2 348.3 184.5 349.2 186.7 350.0C188.9 350.8 191.1 353.1 193.3 353.3C196.1 353.6 198.9 353.4 201.7 353.7C203.5 353.9 205.2 355.0 207.0 355.0C208.6 355.0 210.1 351.9 211.7 350.8C213.9 349.3 216.1 349.5 218.3 348.3C220.5 347.0 222.8 343.7 225.0 343.3C227.8 342.8 230.5 343.0 233.3 342.5C235.5 342.1 237.8 338.0 240.0 336.7C240.6 336.4 241.1 335.8 241.7 335.8C243.1 335.8 244.4 337.5 245.8 337.5C246.9 337.5 248.1 335.8 249.2 335.8C251.7 335.8 254.2 337.5 256.7 337.5C257.8 337.5 258.9 336.1 260.0 335.0C261.1 333.9 262.2 330.8 263.3 330.8C264.4 330.8 265.6 338.3 266.7 338.3C267.9 338.3 269.1 330.8 270.3 330.8C271.6 330.8 272.9 337.5 274.2 337.5C276.4 337.5 278.6 336.7 280.8 336.7C282.2 336.7 283.6 342.5 285.0 342.5C286.7 342.5 288.3 340.4 290.0 340.0C292.2 339.5 294.5 339.7 296.7 339.2C298.9 338.7 301.1 335.8 303.3 335.8C305.2 335.8 307.1 337.0 309.0 337.0C311.0 337.0 313.0 335.0 315.0 335.0C316.7 335.0 318.3 335.8 320.0 335.8C322.5 335.8 325.0 330.8 327.5 330.8C329.2 330.8 330.8 335.0 332.5 335.0C333.9 335.0 335.3 333.3 336.7 332.5C338.4 331.6 340.0 331.7 341.7 330.0C343.1 328.6 344.4 322.5 345.8 322.5C347.2 322.5 348.6 324.3 350.0 325.0C352.8 326.5 355.5 327.3 358.3 328.3C361.1 329.3 363.9 329.1 366.7 330.8C368.1 331.6 369.4 334.2 370.8 334.2C371.9 334.2 373.1 327.5 374.2 327.5C375.6 327.5 376.9 332.5 378.3 332.5C380.0 332.5 381.6 329.4 383.3 326.7C385.3 323.6 387.2 314.2 389.2 314.2C390.6 314.2 391.9 320.8 393.3 323.3C395.3 326.9 397.2 330.8 399.2 330.8C401.1 330.8 403.1 326.3 405.0 325.8C407.2 325.3 409.5 325.0 411.7 325.0C413.9 325.0 416.1 329.2 418.3 329.2C420.0 329.2 421.6 323.6 423.3 320.0C425.0 316.4 426.6 307.5 428.3 307.5C430.0 307.5 431.6 313.5 433.3 316.7C435.3 320.4 437.2 328.3 439.2 328.3C441.1 328.3 443.1 327.1 445.0 325.0C446.7 323.2 448.3 319.9 450.0 317.5C451.1 315.9 452.2 313.0 453.3 313.0C454.7 313.0 456.1 320.8 457.5 320.8C459.4 320.8 461.4 320.8 463.3 320.8C465.0 320.8 466.6 314.2 468.3 310.8C469.4 308.5 470.6 303.7 471.7 303.7C472.8 303.7 473.9 307.5 475.0 307.5C476.1 307.5 477.2 303.2 478.3 301.7C480.0 299.5 481.6 299.3 483.3 298.3C485.0 297.3 486.6 295.8 488.3 295.8C489.4 295.8 490.6 297.2 491.7 300.0C492.0 300.7 492.2 302.4 492.5 302.5C493.6 303.0 494.7 302.8 495.8 303.3C496.9 303.8 498.1 309.2 499.2 309.2C500.6 309.2 501.9 303.3 503.3 303.3C504.7 303.3 506.1 303.3 507.5 303.3C508.6 303.3 509.7 299.2 510.8 296.7C512.2 293.5 513.6 287.7 515.0 285.8C516.4 283.9 517.8 283.0 519.2 283.0C520.6 283.0 521.9 283.9 523.3 285.8C524.4 287.3 525.6 290.2 526.7 292.5C528.1 295.2 529.4 299.8 530.8 300.8C531.6 301.4 532.5 301.7 533.3 301.7C534.4 301.7 535.6 300.0 536.7 300.0C537.8 300.0 538.9 303.4 540.0 303.7C542.8 304.4 545.5 304.0 548.3 304.7C549.4 305.0 550.6 306.0 551.7 308.3C552.5 310.0 553.4 315.0 554.2 315.0C555.6 315.0 556.9 313.5 558.3 311.7C559.4 310.2 560.6 307.2 561.7 305.8C563.1 304.1 564.4 303.3 565.8 303.3C567.2 303.3 568.6 305.6 570.0 306.7C571.1 307.6 572.2 308.7 573.3 309.2C575.5 310.3 577.8 310.8 580.0 310.8C581.7 310.8 583.3 309.2 585.0 309.2C586.7 309.2 588.3 314.2 590.0 314.2C591.1 314.2 592.2 311.7 593.3 311.7C595.0 311.7 596.6 313.3 598.3 313.3C600.0 313.3 601.6 312.1 603.3 310.8C604.7 309.7 606.1 306.7 607.5 306.7C608.6 306.7 609.7 309.6 610.8 313.3C611.1 314.3 611.4 315.6 611.7 316.7C612.8 320.6 613.9 322.4 615.0 325.0C616.1 327.6 617.2 332.5 618.3 332.5C618.9 332.5 619.4 331.2 620.0 330.8C621.7 329.7 623.3 329.2 625.0 329.2C626.1 329.2 627.2 335.0 628.3 335.0C629.4 335.0 630.6 328.8 631.7 326.7C633.4 323.6 635.0 322.4 636.7 321.7C638.1 321.1 639.4 320.8 640.8 320.8C641.9 320.8 643.1 325.8 644.2 325.8C645.3 325.8 646.4 320.4 647.5 318.3C648.4 316.5 649.4 313.7 650.3 313.7C651.6 313.7 652.9 320.0 654.2 320.0C655.6 320.0 656.9 319.7 658.3 319.2C659.4 318.8 660.6 317.5 661.7 317.5C662.8 317.5 663.9 318.3 665.0 318.3C666.2 318.3 667.5 314.2 668.7 314.2C670.0 314.2 671.2 321.7 672.5 321.7C674.2 321.7 675.8 321.7 677.5 321.7C678.9 321.7 680.3 323.7 681.7 325.0C682.8 326.0 683.9 328.3 685.0 328.3C686.4 328.3 687.8 324.2 689.2 324.2C690.6 324.2 691.9 325.9 693.3 326.7C695.0 327.6 696.6 327.8 698.3 329.2C699.1 329.9 700.0 331.7 700.8 331.7C701.9 331.7 703.1 326.7 704.2 326.7C705.3 326.7 706.4 331.7 707.5 331.7C708.9 331.7 710.3 330.9 711.7 329.2C713.1 327.6 714.4 323.3 715.8 320.8C716.8 319.0 717.7 315.8 718.7 315.8C719.7 315.8 720.7 320.2 721.7 322.5C722.8 325.0 723.9 327.9 725.0 330.0C726.1 332.1 727.2 335.0 728.3 335.0C729.7 335.0 731.1 330.5 732.5 328.3C733.9 326.1 735.3 321.7 736.7 321.7C737.8 321.7 738.9 324.9 740.0 326.7C741.4 329.0 742.8 333.6 744.2 334.5C745.6 335.4 746.9 335.8 748.3 335.8C750.0 335.8 751.6 335.5 753.3 335.0C754.7 334.6 756.1 330.8 757.5 328.3C758.7 326.3 759.8 321.7 761.0 321.7C762.1 321.7 763.2 327.5 764.3 330.0C765.7 333.2 767.1 338.3 768.5 338.3C769.9 338.3 771.3 336.7 772.7 335.0C774.1 333.3 775.4 330.5 776.8 328.3C778.2 326.1 779.6 323.5 781.0 321.7C782.4 319.9 783.8 317.5 785.2 317.5C786.3 317.5 787.4 321.8 788.5 323.3C789.9 325.2 791.3 325.1 792.7 326.7C794.1 328.2 795.4 331.1 796.8 332.5C798.2 333.9 799.6 334.5 801.0 335.0C802.4 335.5 803.8 335.8 805.2 335.8C806.3 335.8 807.4 334.1 808.5 333.3C809.6 332.6 810.7 331.3 811.8 331.3C812.9 331.3 814.1 334.6 815.2 335.8C816.6 337.3 817.9 339.2 819.3 339.2C820.7 339.2 822.1 339.2 823.5 339.2C824.9 339.2 826.3 336.9 827.7 335.8C828.8 334.9 829.9 334.5 831.0 333.3C832.4 331.7 833.8 327.9 835.2 326.7C836.6 325.6 837.9 325.0 839.3 325.0C840.9 325.0 842.4 330.8 844.0 333.0C845.2 334.6 846.3 337.0 847.5 337.0C849.0 337.0 850.5 333.2 852.0 331.0C853.7 328.6 855.3 325.6 857.0 323.0C858.7 320.4 860.3 317.9 862.0 315.5C863.0 314.1 864.0 311.3 865.0 311.3C866.4 311.3 867.9 316.6 869.3 319.0C871.2 322.2 873.1 328.0 875.0 328.0C876.4 328.0 877.9 324.8 879.3 323.0C880.5 321.4 881.8 318.0 883.0 318.0C884.2 318.0 885.3 324.5 886.5 324.5C887.4 324.5 888.4 324.3 889.3 324.3C890.0 324.3 890.8 326.5 891.5 327.0C892.5 327.7 893.5 328.0 894.5 328.0C895.3 328.0 896.2 324.0 897.0 324.0C897.8 324.0 898.5 324.3 899.3 325.0C899.8 325.4 900.2 327.0 900.7 328.0"/>
<path stroke="#f15c80" d="M470.0 368.6C471.7 368.5 473.3 368.5 475.0 368.3C476.3 368.1 477.7 366.9 479.0 366.3C480.3 365.8 481.7 365.1 483.0 365.0C485.3 364.9 487.7 364.8 490.0 364.8C492.3 364.8 494.7 364.9 497.0 365.0C499.3 365.1 501.7 365.5 504.0 365.5C506.0 365.5 508.0 365.2 510.0 365.0C513.3 364.6 516.7 364.3 520.0 363.3C522.2 362.6 524.5 361.8 526.7 360.8C528.4 360.1 530.0 358.3 531.7 358.3C533.4 358.3 535.0 360.2 536.7 360.8C539.5 361.9 542.2 362.5 545.0 362.5C547.8 362.5 550.5 362.1 553.3 361.7C556.1 361.3 558.9 360.4 561.7 360.0C564.5 359.6 567.2 359.5 570.0 359.2C572.8 358.9 575.5 358.8 578.3 358.3C580.5 357.9 582.8 357.8 585.0 356.7C586.7 355.9 588.3 354.1 590.0 353.3C592.2 352.2 594.5 351.7 596.7 351.7C599.8 351.7 602.9 351.8 606.0 352.0C609.0 352.2 612.0 352.7 615.0 354.2C616.1 354.7 617.2 357.5 618.3 357.5C620.0 357.5 621.6 355.0 623.3 355.0C625.0 355.0 626.6 357.5 628.3 357.5C630.0 357.5 631.6 354.0 633.3 353.3C636.2 352.1 639.1 351.5 642.0 351.5C644.7 351.5 647.3 355.0 650.0 355.0C651.7 355.0 653.3 350.5 655.0 348.3C656.7 346.1 658.3 343.2 660.0 341.7C661.4 340.4 662.8 339.2 664.2 339.2C665.6 339.2 666.9 343.4 668.3 345.0C670.5 347.6 672.8 350.0 675.0 350.0C676.7 350.0 678.3 348.3 680.0 348.3C683.3 348.3 686.7 348.9 690.0 349.0C693.9 349.1 697.8 349.2 701.7 349.2C705.1 349.2 708.6 347.4 712.0 346.0C715.8 344.4 719.5 341.9 723.3 340.0C725.0 339.2 726.6 337.5 728.3 337.5C730.0 337.5 731.6 340.0 733.3 340.0C735.5 340.0 737.8 339.7 740.0 339.2C742.2 338.7 744.5 336.3 746.7 336.3C748.9 336.3 751.1 337.8 753.3 339.2C755.0 340.3 756.6 342.1 758.3 343.3C760.0 344.6 761.6 346.7 763.3 346.7C766.1 346.7 768.9 346.1 771.7 345.0C772.8 344.6 773.9 339.3 775.0 336.7C775.9 334.6 776.8 331.9 777.7 330.8C779.1 329.1 780.4 329.9 781.8 328.3C783.2 326.6 784.6 320.8 786.0 320.8C787.1 320.8 788.2 326.4 789.3 328.3C790.7 330.7 792.1 332.5 793.5 332.5C794.6 332.5 795.7 330.5 796.8 329.2C798.8 326.8 800.7 323.0 802.7 320.0C804.9 316.6 807.1 313.4 809.3 310.0C811.3 306.9 813.2 300.5 815.2 300.5C816.3 300.5 817.4 305.5 818.5 305.5C819.6 305.5 820.7 300.5 821.8 300.5C823.5 300.5 825.1 307.0 826.8 310.0C828.8 313.6 830.7 317.1 832.7 320.0C834.9 323.3 837.1 325.6 839.3 328.3C841.0 330.3 842.6 332.4 844.3 334.2C845.2 335.2 846.2 337.0 847.1 337.0C848.7 337.0 850.2 333.9 851.8 331.7C853.5 329.4 855.1 325.9 856.8 323.3C858.5 320.7 860.1 318.1 861.8 315.8C862.8 314.4 863.8 312.0 864.8 312.0C866.3 312.0 867.8 316.8 869.3 319.2C871.3 322.3 873.2 328.6 875.2 328.6C876.6 328.6 877.9 325.2 879.3 323.3C880.4 321.7 881.5 318.3 882.6 318.3C884.0 318.3 885.4 323.0 886.8 325.0C887.7 326.3 888.6 327.8 889.5 328.6C891.3 330.1 893.2 330.5 895.0 330.9C896.9 331.3 898.8 331.3 900.7 331.5"/>
<path stroke="#e4d354" d="M65.8 353.3C67.8 353.4 69.7 353.7 71.7 353.7C74.5 353.7 77.2 353.7 80.0 353.7C81.3 353.7 82.7 354.0 84.0 354.0C85.4 354.0 86.9 353.8 88.3 353.3C89.3 353.0 90.3 342.5 91.3 342.5C92.3 342.5 93.2 353.4 94.2 354.2C96.1 355.9 98.1 356.7 100.0 356.7C102.2 356.7 104.5 356.7 106.7 356.7C108.6 356.7 110.6 359.2 112.5 359.2C113.6 359.2 114.7 351.4 115.8 350.8C117.8 349.7 119.7 349.8 121.7 349.2C123.4 348.7 125.0 348.6 126.7 347.5C128.1 346.6 129.4 344.4 130.8 343.3C132.2 342.2 133.6 340.8 135.0 340.8C136.7 340.8 138.3 343.3 140.0 343.3C141.7 343.3 143.3 337.5 145.0 337.5C145.8 337.5 146.7 348.8 147.5 350.0C148.9 352.0 150.3 353.0 151.7 353.0C153.9 353.0 156.1 350.8 158.3 350.8C160.5 350.8 162.8 351.3 165.0 351.7C167.2 352.1 169.5 353.3 171.7 353.3C173.9 353.3 176.1 349.2 178.3 349.2C180.5 349.2 182.8 351.4 185.0 352.5C187.2 353.6 189.5 355.8 191.7 355.8C193.9 355.8 196.1 354.2 198.3 354.2C201.2 354.2 204.1 358.3 207.0 358.3C209.1 358.3 211.2 355.8 213.3 355.0C215.5 354.1 217.8 353.3 220.0 353.3C222.2 353.3 224.5 353.6 226.7 354.2C228.9 354.8 231.1 356.7 233.3 356.7C235.5 356.7 237.8 351.7 240.0 351.7C241.1 351.7 242.2 352.5 243.3 352.5C245.3 352.5 247.2 350.0 249.2 350.0C251.1 350.0 253.1 351.0 255.0 351.7C257.2 352.6 259.5 355.0 261.7 355.0C263.4 355.0 265.0 353.3 266.7 353.3C267.8 353.3 268.9 355.0 270.0 355.0C271.1 355.0 272.2 350.0 273.3 350.0C274.7 350.0 276.1 355.8 277.5 355.8C278.9 355.8 280.3 350.4 281.7 350.0C283.4 349.5 285.0 349.2 286.7 349.2C288.1 349.2 289.4 349.2 290.8 349.2C292.2 349.2 293.6 348.9 295.0 348.3C296.7 347.6 298.3 343.6 300.0 342.5C301.7 341.4 303.3 341.9 305.0 340.8C306.4 339.8 307.8 335.8 309.2 335.8C310.6 335.8 311.9 338.8 313.3 339.2C315.0 339.7 316.6 339.5 318.3 340.0C320.0 340.5 321.6 343.3 323.3 343.3C325.5 343.3 327.8 343.3 330.0 343.3C332.8 343.3 335.5 340.8 338.3 340.8C339.7 340.8 341.1 342.5 342.5 342.5C343.6 342.5 344.7 338.3 345.8 338.3C347.2 338.3 348.6 347.5 350.0 347.5C351.7 347.5 353.3 345.2 355.0 344.2C357.2 342.9 359.5 340.8 361.7 340.8C363.9 340.8 366.1 341.7 368.3 341.7C370.5 341.7 372.8 339.2 375.0 339.2C376.1 339.2 377.2 343.3 378.3 343.3C380.5 343.3 382.8 341.2 385.0 340.0C387.2 338.8 389.5 336.8 391.7 335.8C393.9 334.8 396.1 334.2 398.3 334.2C400.0 334.2 401.6 335.0 403.3 335.0C404.7 335.0 406.1 330.0 407.5 330.0C409.4 330.0 411.4 341.7 413.3 341.7C415.0 341.7 416.6 340.0 418.3 340.0C420.5 340.0 422.8 340.8 425.0 340.8C426.1 340.8 427.2 335.0 428.3 335.0C429.7 335.0 431.1 343.2 432.5 343.3C435.0 343.6 437.5 343.4 440.0 343.7C442.3 343.9 444.6 351.0 446.9 351.0C449.2 351.0 451.5 345.5 453.8 345.5C455.3 345.5 456.9 350.7 458.4 352.0C460.3 353.5 462.1 353.7 464.0 354.3C466.8 355.2 469.5 355.7 472.3 355.7C473.8 355.7 475.4 352.0 476.9 349.2C477.7 347.8 478.4 344.6 479.2 344.6C480.3 344.6 481.3 350.1 482.4 352.0C484.2 355.3 486.1 357.0 487.9 357.0C490.4 357.0 492.8 356.6 495.3 355.7C496.8 355.2 498.4 352.0 499.9 352.0C501.4 352.0 503.0 355.7 504.5 355.7C506.3 355.7 508.2 344.6 510.0 344.6C511.9 344.6 513.7 349.2 515.6 349.2C517.1 349.2 518.5 348.4 520.0 346.7C521.1 345.4 522.2 340.7 523.3 339.2C524.1 338.1 525.0 337.5 525.8 337.5C526.9 337.5 528.1 339.7 529.2 341.7C530.6 344.1 531.9 349.5 533.3 351.7C535.0 354.4 536.6 355.1 538.3 355.8C541.1 356.9 543.9 357.1 546.7 357.5C548.9 357.8 551.1 358.0 553.3 358.0C555.0 358.0 556.6 357.3 558.3 355.8C559.3 354.9 560.3 350.8 561.3 350.8C562.5 350.8 563.8 355.8 565.0 355.8C567.8 355.8 570.5 355.5 573.3 355.0C575.5 354.6 577.8 354.1 580.0 353.3C582.2 352.5 584.5 350.5 586.7 350.0C588.9 349.5 591.1 349.2 593.3 349.2C595.0 349.2 596.6 350.0 598.3 350.8C600.0 351.6 601.6 354.2 603.3 354.2C605.0 354.2 606.6 351.7 608.3 351.7C610.5 351.7 612.8 353.3 615.0 353.3C617.2 353.3 619.5 352.8 621.7 352.5C623.9 352.2 626.1 352.2 628.3 351.7C630.0 351.3 631.6 350.0 633.3 350.0C636.2 350.0 639.1 350.0 642.0 350.0C644.7 350.0 647.3 349.7 650.0 349.0C652.8 348.3 655.5 338.3 658.3 338.3C659.4 338.3 660.6 339.9 661.7 340.8C663.5 342.3 665.2 344.6 667.0 346.0C669.1 347.6 671.2 349.2 673.3 349.2C680.0 349.2 686.6 349.2 693.3 349.2C696.6 349.2 700.0 347.8 703.3 346.7C705.5 346.0 707.8 344.8 710.0 344.2C712.2 343.6 714.5 343.6 716.7 343.3C718.9 343.0 721.1 342.8 723.3 342.5C725.5 342.2 727.8 341.7 730.0 341.7C732.2 341.7 734.5 341.7 736.7 341.7C741.1 341.7 745.6 340.8 750.0 340.8C752.2 340.8 754.5 342.7 756.7 343.3C758.4 343.7 760.0 344.2 761.7 344.2C763.1 344.2 764.6 340.8 766.0 340.8C767.7 340.8 769.3 341.7 771.0 341.7C772.7 341.7 774.3 335.8 776.0 335.8C777.7 335.8 779.3 336.7 781.0 336.7C782.7 336.7 784.3 333.3 786.0 333.3C787.7 333.3 789.3 342.5 791.0 343.3C793.3 344.4 795.7 344.5 798.0 345.0C800.7 345.6 803.3 346.7 806.0 346.7C808.2 346.7 810.5 342.2 812.7 340.8C814.6 339.6 816.6 338.3 818.5 338.3C819.9 338.3 821.3 342.1 822.7 343.3C824.4 344.8 826.0 345.8 827.7 345.8C829.9 345.8 832.1 343.7 834.3 343.7C836.0 343.7 837.6 344.1 839.3 344.7C841.0 345.3 842.6 346.8 844.3 347.5C846.5 348.5 848.8 348.8 851.0 349.2C852.9 349.6 854.9 350.0 856.8 350.0C858.2 350.0 859.6 345.8 861.0 345.8C863.2 345.8 865.5 348.3 867.7 348.3C869.9 348.3 872.1 344.2 874.3 344.2C876.0 344.2 877.6 346.7 879.3 346.7C881.3 346.7 883.2 341.7 885.2 341.7C887.1 341.7 889.1 344.1 891.0 345.8C892.7 347.2 894.3 350.8 896.0 350.8C897.2 350.8 898.3 346.7 899.5 346.7C899.9 346.7 900.3 347.6 900.7 348.0"/>
<path stroke="#2b908f" d="M65.8 350.8C66.9 353.0 68.1 357.5 69.2 357.5C70.6 357.5 71.9 355.4 73.3 355.0C75.3 354.5 77.2 354.7 79.2 354.2C80.0 354.0 80.9 349.6 81.7 345.0C82.5 340.4 83.4 332.5 84.2 326.7C85.0 320.9 85.9 317.8 86.7 310.0C87.1 305.9 87.6 298.3 88.0 296.0C89.0 290.7 90.0 288.0 91.0 288.0C92.3 288.0 93.7 294.1 95.0 296.0C96.0 297.4 97.0 297.0 98.0 299.0C99.0 301.0 100.0 316.7 101.0 318.0C102.0 319.3 103.0 320.0 104.0 320.0C105.7 320.0 107.3 319.3 109.0 318.0C110.2 317.0 111.4 305.6 112.6 305.6C113.7 305.6 114.9 313.6 116.0 316.0C117.3 318.9 118.7 320.4 120.0 320.4C121.3 320.4 122.7 318.3 124.0 314.0C125.1 310.4 126.3 297.1 127.4 296.0C128.5 294.9 129.5 294.4 130.6 294.4C131.7 294.4 132.9 314.1 134.0 320.0C135.1 325.9 136.3 330.0 137.4 330.0C138.6 330.0 139.8 325.0 141.0 325.0C142.0 325.0 143.0 326.0 144.0 326.0C145.1 326.0 146.3 323.0 147.4 323.0C148.9 323.0 150.5 331.0 152.0 331.0C153.7 331.0 155.3 323.0 157.0 320.0C158.9 316.6 160.7 312.4 162.6 312.4C163.4 312.4 164.2 330.0 165.0 330.0C165.7 330.0 166.3 328.2 167.0 326.0C168.0 322.7 169.0 312.0 170.0 310.0C171.0 308.0 172.0 308.5 173.0 307.0C174.3 305.0 175.7 300.3 177.0 298.0C178.3 295.7 179.7 296.3 181.0 293.0C182.0 290.5 183.0 273.0 184.0 273.0C185.3 273.0 186.7 298.0 188.0 298.0C189.7 298.0 191.3 269.3 193.0 268.0C194.7 266.7 196.3 266.0 198.0 266.0C198.7 266.0 199.3 266.2 200.0 266.7C200.8 267.3 201.7 287.2 202.5 290.0C203.8 294.5 205.2 296.8 206.5 296.8C207.7 296.8 208.8 295.6 210.0 293.3C211.1 291.1 212.2 255.8 213.3 255.8C214.4 255.8 215.6 275.0 216.7 275.0C217.8 275.0 218.9 267.5 220.0 267.5C221.1 267.5 222.2 273.3 223.3 275.8C224.4 278.3 225.6 282.5 226.7 282.5C228.1 282.5 229.4 279.2 230.8 279.2C232.1 279.2 233.3 291.5 234.6 291.5C235.7 291.5 236.9 279.2 238.0 279.2C239.2 279.2 240.5 291.7 241.7 291.7C243.1 291.7 244.4 283.0 245.8 280.0C246.9 277.5 248.1 274.2 249.2 274.2C251.4 274.2 253.6 274.2 255.8 274.2C256.9 274.2 258.1 274.8 259.2 275.8C260.6 277.0 261.9 281.3 263.3 281.3C264.4 281.3 265.6 275.5 266.7 272.5C268.1 268.9 269.4 261.7 270.8 261.7C271.9 261.7 273.1 266.0 274.2 268.3C275.3 270.5 276.4 275.0 277.5 275.0C278.7 275.0 280.0 267.5 281.2 267.5C282.5 267.5 283.7 272.1 285.0 274.2C286.1 276.0 287.2 279.2 288.3 279.2C289.6 279.2 290.9 272.5 292.2 272.5C293.7 272.5 295.2 277.5 296.7 280.0C298.8 283.5 300.9 290.8 303.0 290.8C304.2 290.8 305.5 285.1 306.7 282.5C307.8 280.2 308.9 275.8 310.0 275.8C311.1 275.8 312.2 284.2 313.3 284.2C314.4 284.2 315.6 283.6 316.7 283.3C318.1 282.9 319.4 282.0 320.8 282.0C321.9 282.0 323.1 284.2 324.2 284.2C325.3 284.2 326.4 277.4 327.5 275.0C328.9 271.9 330.3 268.7 331.7 268.7C333.4 268.7 335.0 273.7 336.7 276.7C338.4 279.7 340.0 286.7 341.7 286.7C343.4 286.7 345.0 279.4 346.7 276.7C348.5 273.8 350.2 271.3 352.0 270.3C353.8 269.3 355.7 268.9 357.5 268.8C359.4 268.7 361.4 268.7 363.3 268.7C364.4 268.7 365.6 272.9 366.7 274.2C368.1 275.8 369.4 276.0 370.8 276.7C372.2 277.4 373.6 277.2 375.0 278.3C376.1 279.1 377.2 284.2 378.3 284.2C380.3 284.2 382.2 279.7 384.2 279.7C385.6 279.7 386.9 281.2 388.3 281.7C389.7 282.3 391.1 283.0 392.5 283.0C393.9 283.0 395.3 276.9 396.7 275.0C398.4 272.7 400.0 271.3 401.7 271.3C403.1 271.3 404.4 272.7 405.8 273.7C407.5 274.9 409.1 278.0 410.8 278.0C412.2 278.0 413.6 276.3 415.0 274.2C416.1 272.5 417.2 268.3 418.3 267.5C419.4 266.7 420.6 266.3 421.7 266.3C422.8 266.3 423.9 268.2 425.0 269.2C426.1 270.2 427.2 272.5 428.3 272.5C429.4 272.5 430.6 270.0 431.7 270.0C433.4 270.0 435.0 270.0 436.7 270.0C438.4 270.0 440.0 271.2 441.7 272.5C443.4 273.8 445.0 275.8 446.7 277.5C448.9 279.7 451.1 284.2 453.3 284.2C454.3 284.2 455.3 279.2 456.3 279.2C457.5 279.2 458.8 283.5 460.0 285.0C461.4 286.7 462.8 287.0 464.2 288.3C465.6 289.5 466.9 291.3 468.3 292.5C469.4 293.5 470.6 295.3 471.7 295.3C472.8 295.3 473.9 293.0 475.0 293.0C476.1 293.0 477.2 298.9 478.3 300.8C479.4 302.7 480.6 304.0 481.7 304.2C483.9 304.5 486.1 304.7 488.3 304.7C491.2 304.7 494.1 304.2 497.0 304.2C497.7 304.2 498.5 308.8 499.2 308.8C500.6 308.8 501.9 306.4 503.3 305.4C504.5 304.5 505.8 303.0 507.0 303.0C508.3 303.0 509.5 307.8 510.8 309.2C512.8 311.4 514.7 311.5 516.7 312.5C518.9 313.6 521.1 314.5 523.3 315.4C525.3 316.2 527.2 317.5 529.2 317.5C530.6 317.5 531.9 314.0 533.3 314.0C535.3 314.0 537.2 320.0 539.2 320.0C540.6 320.0 541.9 316.2 543.3 315.4C545.5 314.1 547.8 313.5 550.0 313.5C552.2 313.5 554.5 314.4 556.7 314.8C558.4 315.1 560.0 315.1 561.7 315.8C562.8 316.2 563.9 319.0 565.0 320.0C566.1 321.0 567.2 321.7 568.3 321.7C569.7 321.7 571.1 317.3 572.5 315.8C573.9 314.3 575.3 313.9 576.7 312.5C577.8 311.4 578.9 311.3 580.0 308.8C580.9 306.8 581.8 300.0 582.7 300.0C583.9 300.0 585.1 302.8 586.3 303.8C587.9 305.1 589.4 305.3 591.0 306.5C592.5 307.7 594.0 309.6 595.5 311.0C597.6 313.0 599.6 314.0 601.7 316.7C603.4 318.9 605.0 321.9 606.7 325.0C607.8 327.1 608.9 329.2 610.0 331.7C611.4 334.9 612.8 342.5 614.2 342.5C615.6 342.5 616.9 337.5 618.3 337.5C619.4 337.5 620.6 340.8 621.7 340.8C623.9 340.8 626.1 340.5 628.3 340.3C630.0 340.1 631.6 339.7 633.3 339.7C635.0 339.7 636.6 340.8 638.3 340.8C639.5 340.8 640.8 340.8 642.0 340.8C643.6 340.8 645.1 334.2 646.7 334.2C647.8 334.2 648.9 337.5 650.0 337.5C651.4 337.5 652.8 330.8 654.2 330.8C655.3 330.8 656.4 337.9 657.5 339.2C658.9 340.9 660.3 341.7 661.7 341.7C663.9 341.7 666.1 340.8 668.3 340.8C670.0 340.8 671.6 342.1 673.3 342.5C675.3 343.0 677.2 343.3 679.2 343.3C680.3 343.3 681.4 338.3 682.5 338.3C683.6 338.3 684.7 342.4 685.8 342.5C688.3 342.8 690.8 343.0 693.3 343.0C695.5 343.0 697.8 342.5 700.0 341.7C701.7 341.1 703.3 339.9 705.0 339.2C706.9 338.4 708.9 337.5 710.8 337.5C712.5 337.5 714.1 338.4 715.8 339.2C717.5 340.0 719.1 342.5 720.8 342.5C722.5 342.5 724.1 339.2 725.8 339.2C727.8 339.2 729.7 342.5 731.7 342.5C733.9 342.5 736.1 340.1 738.3 339.2C740.3 338.4 742.2 337.5 744.2 337.5C745.6 337.5 746.9 341.7 748.3 341.7C750.0 341.7 751.6 340.0 753.3 340.0C755.0 340.0 756.6 344.2 758.3 344.2C759.2 344.2 760.1 344.2 761.0 344.2C762.7 344.2 764.3 343.3 766.0 343.3C767.7 343.3 769.3 346.5 771.0 347.5C772.0 348.1 773.0 349.0 774.0 349.0C775.2 349.0 776.5 342.5 777.7 340.0C779.1 337.2 780.4 335.1 781.8 333.3C783.1 331.6 784.4 329.2 785.7 329.2C786.9 329.2 788.1 334.1 789.3 335.8C790.7 337.8 792.1 339.2 793.5 340.0C795.4 341.1 797.4 341.3 799.3 341.7C801.5 342.2 803.8 342.0 806.0 342.5C808.2 343.0 810.5 345.0 812.7 345.0C814.6 345.0 816.6 344.2 818.5 344.2C820.4 344.2 822.4 347.5 824.3 347.5C826.5 347.5 828.8 345.0 831.0 345.0C832.7 345.0 834.3 345.3 836.0 345.8C838.2 346.5 840.5 348.7 842.7 349.2C844.9 349.7 847.1 350.0 849.3 350.0C851.5 350.0 853.8 350.0 856.0 350.0C857.7 350.0 859.3 346.7 861.0 346.7C862.7 346.7 864.3 350.0 866.0 350.0C867.7 350.0 869.3 347.6 871.0 346.7C872.4 346.0 873.8 345.0 875.2 345.0C876.6 345.0 877.9 347.5 879.3 348.3C880.7 349.2 882.1 350.0 883.5 350.0C885.2 350.0 886.8 345.8 888.5 345.8C889.9 345.8 891.3 347.3 892.7 348.3C894.1 349.3 895.4 351.7 896.8 351.7C898.1 351.7 899.4 350.0 900.7 349.2"/>
<path stroke="#f45b5b" d="M317.5 370.3C329.0 370.3 340.5 370.3 352.0 370.2C360.8 370.2 369.5 370.1 378.3 370.0C385.5 369.9 392.8 369.8 400.0 369.7C403.9 369.6 407.8 369.6 411.7 369.5C417.8 369.4 423.9 369.3 430.0 369.1C433.3 369.0 436.7 368.8 440.0 368.6C443.3 368.5 446.7 368.4 450.0 368.2C452.7 368.1 455.3 368.0 458.0 367.7C460.3 367.5 462.7 367.0 465.0 366.7C466.7 366.5 468.3 366.2 470.0 366.0C471.3 365.9 472.7 365.8 474.0 365.7C475.3 365.6 476.7 365.5 478.0 365.5C480.0 365.5 482.0 366.7 484.0 366.8C486.0 366.9 488.0 366.9 490.0 367.0C493.3 367.1 496.7 367.3 500.0 367.3C503.3 367.3 506.7 366.7 510.0 366.3C513.3 365.9 516.7 365.0 520.0 365.0C522.2 365.0 524.5 366.7 526.7 366.7C531.1 366.7 535.6 366.7 540.0 366.7C544.4 366.7 548.9 366.1 553.3 365.8C557.2 365.5 561.1 365.0 565.0 365.0C567.8 365.0 570.5 365.8 573.3 365.8C576.1 365.8 578.9 365.8 581.7 365.8C584.5 365.8 587.2 364.2 590.0 364.2C592.8 364.2 595.5 366.2 598.3 366.7C601.1 367.2 603.9 367.5 606.7 367.5C609.5 367.5 612.2 367.2 615.0 366.7C617.2 366.3 619.5 364.2 621.7 364.2C622.8 364.2 623.9 366.7 625.0 366.7C626.7 366.7 628.3 365.9 630.0 364.2C631.1 363.1 632.2 358.3 633.3 356.7C634.4 355.0 635.6 354.6 636.7 354.2C638.5 353.6 640.2 353.3 642.0 353.3C643.6 353.3 645.1 358.8 646.7 359.2C648.9 359.7 651.1 360.0 653.3 360.0C655.0 360.0 656.6 359.1 658.3 358.3C660.0 357.5 661.6 355.0 663.3 355.0C665.5 355.0 667.8 358.5 670.0 359.2C672.2 359.9 674.5 360.3 676.7 360.3C678.9 360.3 681.1 360.2 683.3 360.0C685.5 359.8 687.8 359.6 690.0 359.2C692.2 358.8 694.5 357.9 696.7 357.5C698.9 357.1 701.1 357.1 703.3 356.7C705.5 356.3 707.8 355.6 710.0 355.0C712.2 354.4 714.5 353.7 716.7 353.3C718.9 352.9 721.1 352.8 723.3 352.5C725.5 352.2 727.8 352.0 730.0 351.7C732.2 351.4 734.5 351.2 736.7 350.8C738.9 350.4 741.1 349.2 743.3 349.2C745.5 349.2 747.8 349.6 750.0 350.0C752.2 350.4 754.5 351.7 756.7 351.7C758.1 351.7 759.6 351.7 761.0 351.7C762.7 351.7 764.3 352.9 766.0 353.3C767.7 353.7 769.3 354.2 771.0 354.2C772.4 354.2 773.8 352.3 775.2 350.0C776.0 348.6 776.9 345.0 777.7 345.0C778.8 345.0 779.9 346.7 781.0 350.0C781.6 351.7 782.1 358.3 782.7 358.3C783.8 358.3 784.9 353.3 786.0 353.3C787.1 353.3 788.2 357.5 789.3 357.5C791.0 357.5 792.6 356.7 794.3 356.7C796.3 356.7 798.2 360.0 800.2 360.0C802.1 360.0 804.1 358.9 806.0 358.3C807.7 357.8 809.3 356.7 811.0 356.7C812.1 356.7 813.2 358.3 814.3 358.3C815.4 358.3 816.6 357.5 817.7 357.5C819.1 357.5 820.4 359.2 821.8 359.2C823.8 359.2 825.7 358.3 827.7 358.3C829.9 358.3 832.1 360.1 834.3 360.8C836.5 361.5 838.8 362.5 841.0 362.5C842.7 362.5 844.3 361.6 846.0 360.8C847.4 360.1 848.8 358.3 850.2 358.3C851.9 358.3 853.5 360.1 855.2 360.8C857.1 361.7 859.1 363.0 861.0 363.0C862.7 363.0 864.3 361.2 866.0 360.0C867.7 358.8 869.3 357.2 871.0 355.8C872.7 354.4 874.3 353.1 876.0 351.7C877.7 350.3 879.3 348.9 881.0 347.5C882.7 346.1 884.3 343.0 886.0 343.0C887.4 343.0 888.8 345.2 890.2 346.7C891.6 348.1 892.9 350.6 894.3 351.7C895.4 352.6 896.6 352.9 897.7 353.3C898.7 353.7 899.7 353.9 900.7 354.2"/>
<path stroke="#91e8e1" d="M65.8 340.8C67.8 342.2 69.7 343.8 71.7 345.0C73.4 346.0 75.0 346.9 76.7 347.5C77.8 347.9 78.9 347.8 80.0 348.3C81.4 349.0 82.8 351.7 84.2 351.7C86.1 351.7 88.1 351.1 90.0 350.8C92.8 350.3 95.5 350.2 98.3 349.2C100.5 348.4 102.8 346.6 105.0 345.8C107.8 344.8 110.5 344.2 113.3 344.2C116.1 344.2 118.9 344.4 121.7 344.7C123.9 345.0 126.1 345.8 128.3 345.8C130.5 345.8 132.8 345.2 135.0 345.0C138.3 344.7 141.7 344.7 145.0 344.2C146.4 344.0 147.8 340.0 149.2 340.0C151.1 340.0 153.1 340.0 155.0 340.0C156.7 340.0 158.3 337.8 160.0 336.7C161.7 335.6 163.3 333.3 165.0 333.3C166.1 333.3 167.2 336.3 168.3 337.5C169.4 338.8 170.6 340.8 171.7 340.8C173.6 340.8 175.6 335.8 177.5 335.8C178.9 335.8 180.3 339.0 181.7 340.0C182.8 340.8 183.9 340.7 185.0 341.7C186.1 342.7 187.2 345.7 188.3 345.8C194.5 346.1 200.8 346.3 207.0 346.3C391.7 346.8 576.3 347.0 761.0 347.0C766.6 347.0 772.1 347.0 777.7 347.0C779.1 347.0 780.4 345.1 781.8 344.7C782.9 344.4 784.1 344.2 785.2 344.2C786.6 344.2 787.9 348.3 789.3 348.3C791.0 348.3 792.6 347.5 794.3 347.5C796.5 347.5 798.8 348.8 801.0 349.2C802.7 349.5 804.3 349.6 806.0 350.0C807.7 350.4 809.3 351.7 811.0 351.7C812.7 351.7 814.3 349.2 816.0 349.2C817.9 349.2 819.9 350.8 821.8 350.8C823.8 350.8 825.7 348.6 827.7 347.5C829.4 346.6 831.0 344.7 832.7 344.7C834.4 344.7 836.0 347.0 837.7 348.3C839.4 349.6 841.0 352.0 842.7 352.5C844.4 353.0 846.0 353.3 847.7 353.3C849.4 353.3 851.0 352.0 852.7 352.0C854.4 352.0 856.0 352.5 857.7 353.0C859.4 353.5 861.0 355.0 862.7 355.0C864.4 355.0 866.0 354.1 867.7 353.3C869.4 352.5 871.0 350.0 872.7 350.0C874.4 350.0 876.0 352.2 877.7 353.3C879.4 354.4 881.0 356.7 882.7 356.7C884.4 356.7 886.0 354.8 887.7 354.2C889.4 353.6 891.0 353.3 892.7 353.3C894.4 353.3 896.0 354.4 897.7 354.7C898.7 354.9 899.7 354.9 900.7 355.0"/>
</g>
<text y="26" font-size="18" fill="#333333"><tspan x="267.25" textLength="50.02" lengthAdjust="spacing">TIOBE</tspan> <tspan x="323.25" textLength="118.05" lengthAdjust="spacing">Programming</tspan> <tspan x="447.5" textLength="100.28" lengthAdjust="spacing">Community</tspan> <tspan x="554.0" textLength="47.8" lengthAdjust="spacing">Index</tspan></text>
<text y="52" font-size="12" fill="#666666"><tspan x="366.25" textLength="43.36" lengthAdjust="spacing">Source:</tspan> <tspan x="413.0" textLength="89.95" lengthAdjust="spacing">www.tiobe.com</tspan></text>
<text x="17" y="220.5" text-anchor="middle" font-size="12" fill="#666666" transform="rotate(-90 17 220.5)" textLength="63" lengthAdjust="spacing">Ratings (%)</text>
<text x="43" y="74" text-anchor="end" font-size="11" fill="#666666" letter-spacing="0.4">30</text>
<text x="43" y="124" text-anchor="end" font-size="11" fill="#666666" letter-spacing="0.4">25</text>
<text x="43" y="174" text-anchor="end" font-size="11" fill="#666666" letter-spacing="0.4">20</text>
<text x="43" y="225" text-anchor="end" font-size="11" fill="#666666" letter-spacing="0.4">15</text>
<text x="43" y="275" text-anchor="end" font-size="11" fill="#666666" letter-spacing="0.4">10</text>
<text x="43" y="325" text-anchor="end" font-size="11" fill="#666666" letter-spacing="0.4">5</text>
<text x="43" y="375" text-anchor="end" font-size="11" fill="#666666" letter-spacing="0.4">0</text>
<text x="88.0" y="390" text-anchor="middle" font-size="11" fill="#666666" textLength="26.3" lengthAdjust="spacing">2002</text>
<text x="173.9" y="390" text-anchor="middle" font-size="11" fill="#666666" textLength="26.3" lengthAdjust="spacing">2004</text>
<text x="259.8" y="390" text-anchor="middle" font-size="11" fill="#666666" textLength="26.3" lengthAdjust="spacing">2006</text>
<text x="345.7" y="390" text-anchor="middle" font-size="11" fill="#666666" textLength="26.3" lengthAdjust="spacing">2008</text>
<text x="431.6" y="390" text-anchor="middle" font-size="11" fill="#666666" textLength="26.3" lengthAdjust="spacing">2010</text>
<text x="517.5" y="390" text-anchor="middle" font-size="11" fill="#666666" textLength="26.3" lengthAdjust="spacing">2012</text>
<text x="603.4" y="390" text-anchor="middle" font-size="11" fill="#666666" textLength="26.3" lengthAdjust="spacing">2014</text>
<text x="689.3" y="390" text-anchor="middle" font-size="11" fill="#666666" textLength="26.3" lengthAdjust="spacing">2016</text>
<text x="775.2" y="390" text-anchor="middle" font-size="11" fill="#666666" textLength="26.3" lengthAdjust="spacing">2018</text>
<text x="861.1" y="390" text-anchor="middle" font-size="11" fill="#666666" textLength="26.3" lengthAdjust="spacing">2020</text>
<path d="M103.1 419L119.1 419" stroke="#7cb5ec" stroke-width="4" fill="none"/>
<text y="423" font-size="12" font-weight="bold" fill="#333333"><tspan x="124.5">C</tspan></text>
<path d="M153.0 419L169.0 419" stroke="#434348" stroke-width="4" fill="none"/>
<text y="423" font-size="12" font-weight="bold" fill="#333333"><tspan x="173.75" textLength="24.7" lengthAdjust="spacing">Java</tspan></text>
<path d="M221.2 419L237.2 419" stroke="#90ed7d" stroke-width="4" fill="none"/>
<text y="423" font-size="12" font-weight="bold" fill="#333333"><tspan x="242.25" textLength="41.92" lengthAdjust="spacing">Python</tspan></text>
<path d="M303.5 419L319.5 419" stroke="#f7a35c" stroke-width="4" fill="none"/>
<text y="423" font-size="12" font-weight="bold" fill="#333333"><tspan x="325.0" textLength="25.2" lengthAdjust="spacing">C++</tspan></text>
<path d="M373.0 419L389.0 419" stroke="#8085e9" stroke-width="4" fill="none"/>
<text y="423" font-size="12" font-weight="bold" fill="#333333"><tspan x="394.25" textLength="16.84" lengthAdjust="spacing">C#</tspan></text>
<path d="M431.4 419L447.4 419" stroke="#f15c80" stroke-width="4" fill="none"/>
<text y="423" font-size="12" font-weight="bold" fill="#333333"><tspan x="452.5" textLength="37.89" lengthAdjust="spacing">Visual</tspan> <tspan x="493.25" textLength="30.78" lengthAdjust="spacing">Basic</tspan></text>
<path d="M545.0 419L561.0 419" stroke="#e4d354" stroke-width="4" fill="none"/>
<text y="423" font-size="12" font-weight="bold" fill="#333333"><tspan x="565.5" textLength="59.45" lengthAdjust="spacing">JavaScript</tspan></text>
<path d="M647.9 419L663.9 419" stroke="#2b908f" stroke-width="4" fill="none"/>
<text y="423" font-size="12" font-weight="bold" fill="#333333"><tspan x="669.25" textLength="23.44" lengthAdjust="spacing">PHP</tspan></text>
<path d="M712.6 419L728.6 419" stroke="#f45b5b" stroke-width="4" fill="none"/>
<text y="423" font-size="12" font-weight="bold" fill="#333333"><tspan x="733.75">R</tspan></text>
<path d="M762.7 419L778.7 419" stroke="#91e8e1" stroke-width="4" fill="none"/>
<text y="423" font-size="12" font-weight="bold" fill="#333333"><tspan x="784.0" textLength="23.17" lengthAdjust="spacing">SQL</tspan></text>
</svg>
</body></html>
